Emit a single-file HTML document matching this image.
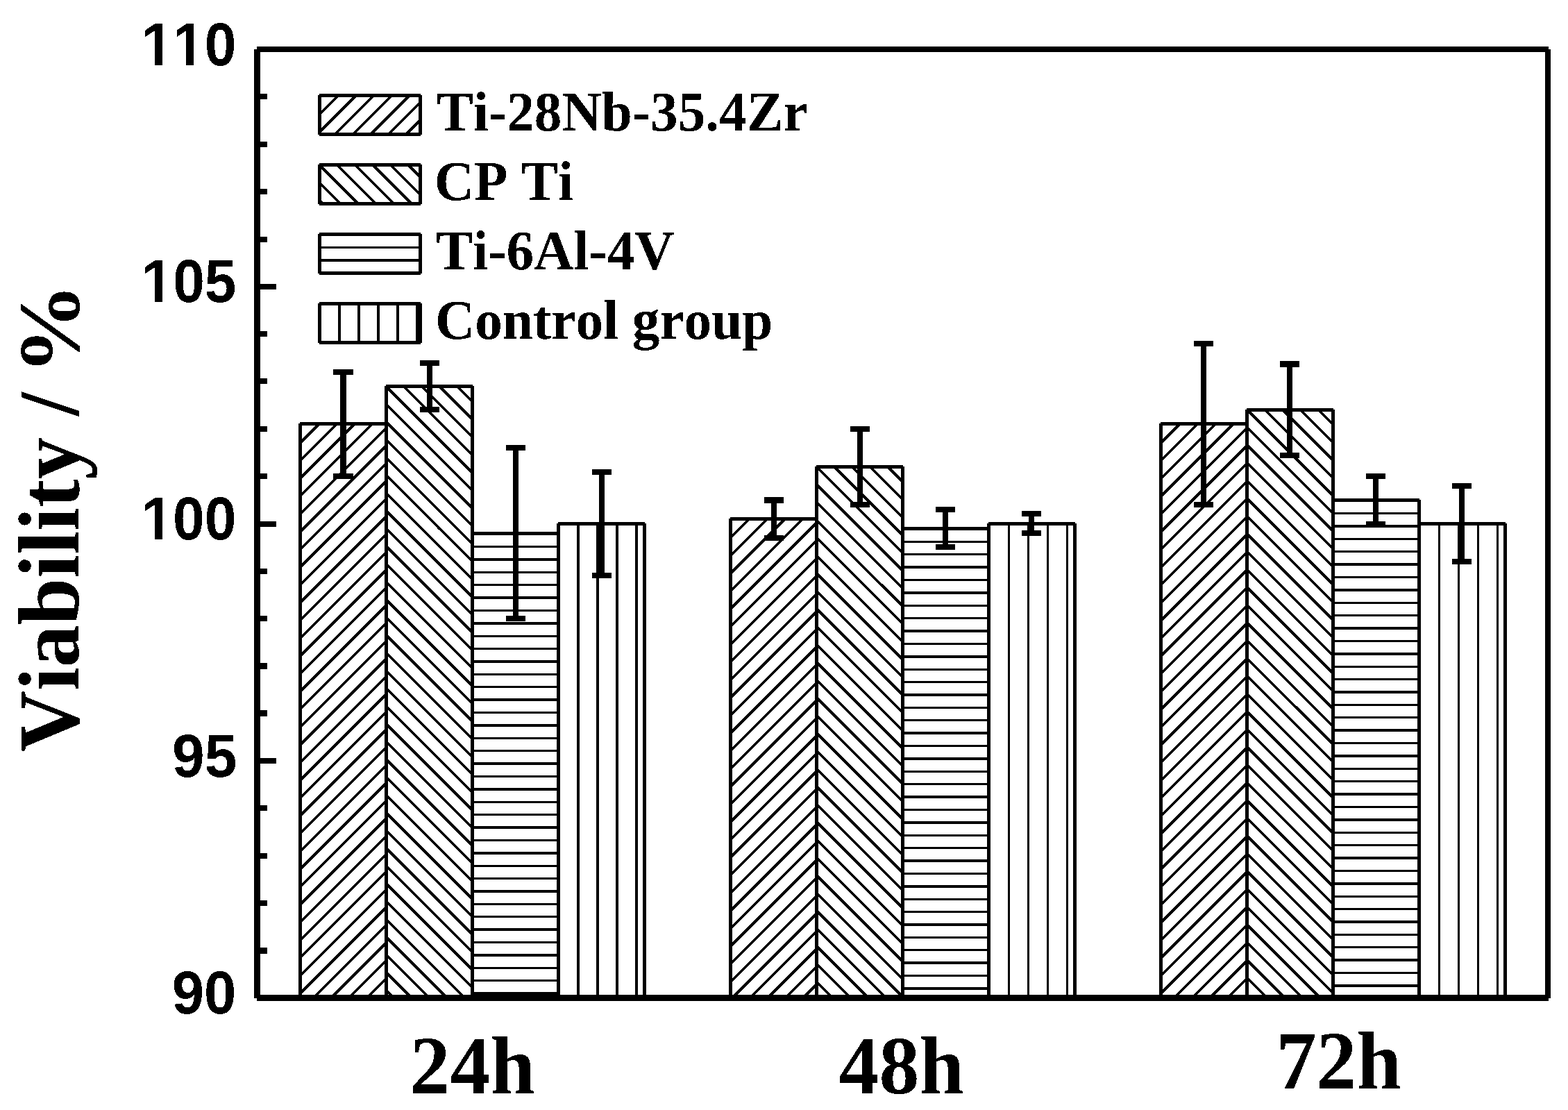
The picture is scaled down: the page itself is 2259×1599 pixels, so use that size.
<!DOCTYPE html>
<html lang="en"><head><meta charset="utf-8"><title>Cell viability of Ti-28Nb-35.4Zr, CP Ti, Ti-6Al-4V and control group</title>
<style>html,body{margin:0;padding:0;background:#fff}body{width:2259px;height:1599px;overflow:hidden}svg{display:block}.sans{font-family:"Liberation Sans",Arial,Helvetica,sans-serif;font-weight:700}.serif{font-family:"Liberation Serif","Times New Roman",Times,serif;font-weight:700}text{fill:#000;font-kerning:none;font-variant-ligatures:none;white-space:pre}</style></head><body>
<svg width="2259" height="1599" viewBox="0 0 2259 1599" shape-rendering="crispEdges" role="img" aria-label="Bar chart of cell viability (%) at 24h, 48h and 72h for Ti-28Nb-35.4Zr, CP Ti, Ti-6Al-4V and control group">
<rect x="0" y="0" width="2259" height="1599" fill="#fff"/>
<defs>
<filter id="bin" x="-5%" y="-5%" width="110%" height="110%" color-interpolation-filters="sRGB"><feComponentTransfer><feFuncA type="discrete" tableValues="0 1"/></feComponentTransfer></filter>
<clipPath id="c1"><rect x="432.5" y="610.5" width="124" height="823.5"/></clipPath>
<clipPath id="c2"><rect x="556.5" y="556.5" width="124" height="877.5"/></clipPath>
<clipPath id="c3"><rect x="680.5" y="768.5" width="124" height="665.5"/></clipPath>
<clipPath id="c4"><rect x="804.5" y="754.5" width="124" height="679.5"/></clipPath>
<clipPath id="c5"><rect x="1052.5" y="747.5" width="124" height="686.5"/></clipPath>
<clipPath id="c6"><rect x="1176.5" y="672.5" width="124" height="761.5"/></clipPath>
<clipPath id="c7"><rect x="1300.5" y="761.5" width="124" height="672.5"/></clipPath>
<clipPath id="c8"><rect x="1424.5" y="754.5" width="124" height="679.5"/></clipPath>
<clipPath id="c9"><rect x="1672.5" y="610.5" width="124" height="823.5"/></clipPath>
<clipPath id="c10"><rect x="1796.5" y="590.5" width="124" height="843.5"/></clipPath>
<clipPath id="c11"><rect x="1920.5" y="720.5" width="124" height="713.5"/></clipPath>
<clipPath id="c12"><rect x="2044.5" y="754.5" width="124" height="679.5"/></clipPath>
<clipPath id="c13"><rect x="460.5" y="137.5" width="145" height="56"/></clipPath>
<clipPath id="c14"><rect x="460.5" y="237.5" width="145" height="56"/></clipPath>
<clipPath id="c15"><rect x="460.5" y="337.5" width="145" height="56"/></clipPath>
<clipPath id="c16"><rect x="460.5" y="437.5" width="145" height="56"/></clipPath>
<clipPath id="ky110"><path d="M-40 -99.6H332.0V41.5H-40ZM-1.66 -9.30H19.46V2.49H-1.66ZM30.63 -9.30H46.58V2.49H30.63ZM44.50 -9.30H65.62V2.49H44.50ZM76.79 -9.30H92.74V2.49H76.79Z" clip-rule="evenodd"/></clipPath>
<clipPath id="ky105"><path d="M-40 -99.6H332.0V41.5H-40ZM-1.66 -9.30H19.46V2.49H-1.66ZM30.63 -9.30H46.58V2.49H30.63Z" clip-rule="evenodd"/></clipPath>
<clipPath id="ky100"><path d="M-40 -99.6H332.0V41.5H-40ZM-1.66 -9.30H19.46V2.49H-1.66ZM30.63 -9.30H46.58V2.49H30.63Z" clip-rule="evenodd"/></clipPath>
</defs>
<g id="bars">
<g clip-path="url(#c1)" stroke="#000" fill="none"><path d="M426.50 643.92L562.50 507.92M426.50 669.50L562.50 533.50M426.50 695.09L562.50 559.09M426.50 720.67L562.50 584.67M426.50 746.25L562.50 610.25M426.50 771.83L562.50 635.83M426.50 797.41L562.50 661.41M426.50 823.00L562.50 687.00M426.50 848.58L562.50 712.58M426.50 874.16L562.50 738.16M426.50 899.74L562.50 763.74M426.50 925.32L562.50 789.32M426.50 950.91L562.50 814.91M426.50 976.49L562.50 840.49M426.50 1002.07L562.50 866.07M426.50 1027.65L562.50 891.65M426.50 1053.23L562.50 917.23M426.50 1078.82L562.50 942.82M426.50 1104.40L562.50 968.40M426.50 1129.98L562.50 993.98M426.50 1155.56L562.50 1019.56M426.50 1181.14L562.50 1045.14M426.50 1206.73L562.50 1070.73M426.50 1232.31L562.50 1096.31M426.50 1257.89L562.50 1121.89M426.50 1283.47L562.50 1147.47M426.50 1309.05L562.50 1173.05M426.50 1334.64L562.50 1198.64M426.50 1360.22L562.50 1224.22M426.50 1385.80L562.50 1249.80M426.50 1411.38L562.50 1275.38M426.50 1436.96L562.50 1300.96M426.50 1462.55L562.50 1326.55M426.50 1488.13L562.50 1352.13M426.50 1513.71L562.50 1377.71M426.50 1539.29L562.50 1403.29M426.50 1564.87L562.50 1428.87" stroke-width="3.8"/></g>
<g fill="#000"><rect x="430" y="610" width="5" height="824"/><rect x="554" y="610" width="5" height="824"/><rect x="432" y="608" width="125" height="5"/></g>
<g clip-path="url(#c2)" stroke="#000" fill="none"><path d="M550.50 422.97L686.50 558.97M550.50 448.55L686.50 584.55M550.50 474.13L686.50 610.13M550.50 499.72L686.50 635.72M550.50 525.30L686.50 661.30M550.50 550.88L686.50 686.88M550.50 576.46L686.50 712.46M550.50 602.04L686.50 738.04M550.50 627.63L686.50 763.63M550.50 653.21L686.50 789.21M550.50 678.79L686.50 814.79M550.50 704.37L686.50 840.37M550.50 729.95L686.50 865.95M550.50 755.54L686.50 891.54M550.50 781.12L686.50 917.12M550.50 806.70L686.50 942.70M550.50 832.28L686.50 968.28M550.50 857.86L686.50 993.86M550.50 883.45L686.50 1019.45M550.50 909.03L686.50 1045.03M550.50 934.61L686.50 1070.61M550.50 960.19L686.50 1096.19M550.50 985.77L686.50 1121.77M550.50 1011.36L686.50 1147.36M550.50 1036.94L686.50 1172.94M550.50 1062.52L686.50 1198.52M550.50 1088.10L686.50 1224.10M550.50 1113.68L686.50 1249.68M550.50 1139.27L686.50 1275.27M550.50 1164.85L686.50 1300.85M550.50 1190.43L686.50 1326.43M550.50 1216.01L686.50 1352.01M550.50 1241.59L686.50 1377.59M550.50 1267.18L686.50 1403.18M550.50 1292.76L686.50 1428.76M550.50 1318.34L686.50 1454.34M550.50 1343.92L686.50 1479.92M550.50 1369.50L686.50 1505.50M550.50 1395.09L686.50 1531.09M550.50 1420.67L686.50 1556.67" stroke-width="3.8"/></g>
<g fill="#000"><rect x="554" y="556" width="5" height="878"/><rect x="678" y="556" width="5" height="878"/><rect x="556" y="554" width="125" height="5"/></g>
<g clip-path="url(#c3)" stroke="#000" fill="none"><g fill="#000" stroke="none"><rect x="680" y="786" width="125" height="3"/><rect x="680" y="804" width="125" height="4"/><rect x="680" y="823" width="125" height="3"/><rect x="680" y="841" width="125" height="3"/><rect x="680" y="859" width="125" height="4"/><rect x="680" y="878" width="125" height="3"/><rect x="680" y="896" width="125" height="4"/><rect x="680" y="915" width="125" height="3"/><rect x="680" y="933" width="125" height="3"/><rect x="680" y="951" width="125" height="4"/><rect x="680" y="970" width="125" height="3"/><rect x="680" y="988" width="125" height="3"/><rect x="680" y="1006" width="125" height="4"/><rect x="680" y="1025" width="125" height="3"/><rect x="680" y="1043" width="125" height="4"/><rect x="680" y="1062" width="125" height="3"/><rect x="680" y="1080" width="125" height="3"/><rect x="680" y="1098" width="125" height="4"/><rect x="680" y="1117" width="125" height="3"/><rect x="680" y="1135" width="125" height="4"/><rect x="680" y="1154" width="125" height="3"/><rect x="680" y="1172" width="125" height="3"/><rect x="680" y="1190" width="125" height="4"/><rect x="680" y="1209" width="125" height="3"/><rect x="680" y="1227" width="125" height="4"/><rect x="680" y="1246" width="125" height="3"/><rect x="680" y="1264" width="125" height="3"/><rect x="680" y="1282" width="125" height="4"/><rect x="680" y="1301" width="125" height="3"/><rect x="680" y="1319" width="125" height="3"/><rect x="680" y="1337" width="125" height="4"/><rect x="680" y="1356" width="125" height="3"/><rect x="680" y="1374" width="125" height="4"/><rect x="680" y="1393" width="125" height="3"/><rect x="680" y="1411" width="125" height="3"/><rect x="680" y="1429" width="125" height="4"/></g></g>
<g fill="#000"><rect x="678" y="768" width="5" height="666"/><rect x="802" y="768" width="5" height="666"/><rect x="680" y="766" width="125" height="5"/></g>
<g clip-path="url(#c4)" stroke="#000" fill="none"><g fill="#000" stroke="none"><rect x="831" y="754" width="4" height="680"/><rect x="859" y="754" width="4" height="680"/><rect x="887" y="754" width="4" height="680"/><rect x="915" y="754" width="4" height="680"/></g></g>
<g fill="#000"><rect x="802" y="754" width="5" height="680"/><rect x="926" y="754" width="5" height="680"/><rect x="804" y="752" width="125" height="5"/></g>
<g clip-path="url(#c5)" stroke="#000" fill="none"><path d="M1046.50 780.70L1182.50 644.70M1046.50 806.28L1182.50 670.28M1046.50 831.87L1182.50 695.87M1046.50 857.45L1182.50 721.45M1046.50 883.03L1182.50 747.03M1046.50 908.61L1182.50 772.61M1046.50 934.19L1182.50 798.19M1046.50 959.78L1182.50 823.78M1046.50 985.36L1182.50 849.36M1046.50 1010.94L1182.50 874.94M1046.50 1036.52L1182.50 900.52M1046.50 1062.10L1182.50 926.10M1046.50 1087.69L1182.50 951.69M1046.50 1113.27L1182.50 977.27M1046.50 1138.85L1182.50 1002.85M1046.50 1164.43L1182.50 1028.43M1046.50 1190.01L1182.50 1054.01M1046.50 1215.60L1182.50 1079.60M1046.50 1241.18L1182.50 1105.18M1046.50 1266.76L1182.50 1130.76M1046.50 1292.34L1182.50 1156.34M1046.50 1317.92L1182.50 1181.92M1046.50 1343.51L1182.50 1207.51M1046.50 1369.09L1182.50 1233.09M1046.50 1394.67L1182.50 1258.67M1046.50 1420.25L1182.50 1284.25M1046.50 1445.83L1182.50 1309.83M1046.50 1471.42L1182.50 1335.42M1046.50 1497.00L1182.50 1361.00M1046.50 1522.58L1182.50 1386.58M1046.50 1548.16L1182.50 1412.16" stroke-width="3.8"/></g>
<g fill="#000"><rect x="1050" y="747" width="5" height="687"/><rect x="1174" y="747" width="5" height="687"/><rect x="1052" y="745" width="125" height="5"/></g>
<g clip-path="url(#c6)" stroke="#000" fill="none"><path d="M1170.50 538.54L1306.50 674.54M1170.50 564.12L1306.50 700.12M1170.50 589.70L1306.50 725.70M1170.50 615.29L1306.50 751.29M1170.50 640.87L1306.50 776.87M1170.50 666.45L1306.50 802.45M1170.50 692.03L1306.50 828.03M1170.50 717.61L1306.50 853.61M1170.50 743.20L1306.50 879.20M1170.50 768.78L1306.50 904.78M1170.50 794.36L1306.50 930.36M1170.50 819.94L1306.50 955.94M1170.50 845.52L1306.50 981.52M1170.50 871.11L1306.50 1007.11M1170.50 896.69L1306.50 1032.69M1170.50 922.27L1306.50 1058.27M1170.50 947.85L1306.50 1083.85M1170.50 973.43L1306.50 1109.43M1170.50 999.02L1306.50 1135.02M1170.50 1024.60L1306.50 1160.60M1170.50 1050.18L1306.50 1186.18M1170.50 1075.76L1306.50 1211.76M1170.50 1101.34L1306.50 1237.34M1170.50 1126.93L1306.50 1262.93M1170.50 1152.51L1306.50 1288.51M1170.50 1178.09L1306.50 1314.09M1170.50 1203.67L1306.50 1339.67M1170.50 1229.25L1306.50 1365.25M1170.50 1254.84L1306.50 1390.84M1170.50 1280.42L1306.50 1416.42M1170.50 1306.00L1306.50 1442.00M1170.50 1331.58L1306.50 1467.58M1170.50 1357.16L1306.50 1493.16M1170.50 1382.75L1306.50 1518.75M1170.50 1408.33L1306.50 1544.33M1170.50 1433.91L1306.50 1569.91" stroke-width="3.8"/></g>
<g fill="#000"><rect x="1174" y="672" width="5" height="762"/><rect x="1298" y="672" width="5" height="762"/><rect x="1176" y="670" width="125" height="5"/></g>
<g clip-path="url(#c7)" stroke="#000" fill="none"><g fill="#000" stroke="none"><rect x="1300" y="779" width="125" height="3"/><rect x="1300" y="797" width="125" height="3"/><rect x="1300" y="815" width="125" height="4"/><rect x="1300" y="834" width="125" height="3"/><rect x="1300" y="852" width="125" height="4"/><rect x="1300" y="871" width="125" height="3"/><rect x="1300" y="889" width="125" height="3"/><rect x="1300" y="907" width="125" height="4"/><rect x="1300" y="926" width="125" height="3"/><rect x="1300" y="944" width="125" height="4"/><rect x="1300" y="963" width="125" height="3"/><rect x="1300" y="981" width="125" height="3"/><rect x="1300" y="999" width="125" height="4"/><rect x="1300" y="1018" width="125" height="3"/><rect x="1300" y="1036" width="125" height="3"/><rect x="1300" y="1054" width="125" height="4"/><rect x="1300" y="1073" width="125" height="3"/><rect x="1300" y="1091" width="125" height="4"/><rect x="1300" y="1110" width="125" height="3"/><rect x="1300" y="1128" width="125" height="3"/><rect x="1300" y="1146" width="125" height="4"/><rect x="1300" y="1165" width="125" height="3"/><rect x="1300" y="1183" width="125" height="4"/><rect x="1300" y="1202" width="125" height="3"/><rect x="1300" y="1220" width="125" height="3"/><rect x="1300" y="1238" width="125" height="4"/><rect x="1300" y="1257" width="125" height="3"/><rect x="1300" y="1275" width="125" height="4"/><rect x="1300" y="1294" width="125" height="3"/><rect x="1300" y="1312" width="125" height="3"/><rect x="1300" y="1330" width="125" height="4"/><rect x="1300" y="1349" width="125" height="3"/><rect x="1300" y="1367" width="125" height="3"/><rect x="1300" y="1385" width="125" height="4"/><rect x="1300" y="1404" width="125" height="3"/><rect x="1300" y="1422" width="125" height="4"/></g></g>
<g fill="#000"><rect x="1298" y="761" width="5" height="673"/><rect x="1422" y="761" width="5" height="673"/><rect x="1300" y="759" width="125" height="5"/></g>
<g clip-path="url(#c8)" stroke="#000" fill="none"><g fill="#000" stroke="none"><rect x="1452" y="754" width="3" height="680"/><rect x="1480" y="754" width="3" height="680"/><rect x="1508" y="754" width="3" height="680"/><rect x="1536" y="754" width="3" height="680"/></g></g>
<g fill="#000"><rect x="1422" y="754" width="5" height="680"/><rect x="1546" y="754" width="5" height="680"/><rect x="1424" y="752" width="125" height="5"/></g>
<g clip-path="url(#c9)" stroke="#000" fill="none"><path d="M1666.50 644.13L1802.50 508.13M1666.50 669.71L1802.50 533.71M1666.50 695.30L1802.50 559.30M1666.50 720.88L1802.50 584.88M1666.50 746.46L1802.50 610.46M1666.50 772.04L1802.50 636.04M1666.50 797.62L1802.50 661.62M1666.50 823.21L1802.50 687.21M1666.50 848.79L1802.50 712.79M1666.50 874.37L1802.50 738.37M1666.50 899.95L1802.50 763.95M1666.50 925.53L1802.50 789.53M1666.50 951.12L1802.50 815.12M1666.50 976.70L1802.50 840.70M1666.50 1002.28L1802.50 866.28M1666.50 1027.86L1802.50 891.86M1666.50 1053.44L1802.50 917.44M1666.50 1079.03L1802.50 943.03M1666.50 1104.61L1802.50 968.61M1666.50 1130.19L1802.50 994.19M1666.50 1155.77L1802.50 1019.77M1666.50 1181.35L1802.50 1045.35M1666.50 1206.94L1802.50 1070.94M1666.50 1232.52L1802.50 1096.52M1666.50 1258.10L1802.50 1122.10M1666.50 1283.68L1802.50 1147.68M1666.50 1309.26L1802.50 1173.26M1666.50 1334.85L1802.50 1198.85M1666.50 1360.43L1802.50 1224.43M1666.50 1386.01L1802.50 1250.01M1666.50 1411.59L1802.50 1275.59M1666.50 1437.17L1802.50 1301.17M1666.50 1462.76L1802.50 1326.76M1666.50 1488.34L1802.50 1352.34M1666.50 1513.92L1802.50 1377.92M1666.50 1539.50L1802.50 1403.50M1666.50 1565.08L1802.50 1429.08" stroke-width="3.8"/></g>
<g fill="#000"><rect x="1670" y="610" width="5" height="824"/><rect x="1794" y="610" width="5" height="824"/><rect x="1672" y="608" width="125" height="5"/></g>
<g clip-path="url(#c10)" stroke="#000" fill="none"><path d="M1790.50 456.12L1926.50 592.12M1790.50 481.70L1926.50 617.70M1790.50 507.28L1926.50 643.28M1790.50 532.87L1926.50 668.87M1790.50 558.45L1926.50 694.45M1790.50 584.03L1926.50 720.03M1790.50 609.61L1926.50 745.61M1790.50 635.19L1926.50 771.19M1790.50 660.78L1926.50 796.78M1790.50 686.36L1926.50 822.36M1790.50 711.94L1926.50 847.94M1790.50 737.52L1926.50 873.52M1790.50 763.10L1926.50 899.10M1790.50 788.69L1926.50 924.69M1790.50 814.27L1926.50 950.27M1790.50 839.85L1926.50 975.85M1790.50 865.43L1926.50 1001.43M1790.50 891.01L1926.50 1027.01M1790.50 916.60L1926.50 1052.60M1790.50 942.18L1926.50 1078.18M1790.50 967.76L1926.50 1103.76M1790.50 993.34L1926.50 1129.34M1790.50 1018.92L1926.50 1154.92M1790.50 1044.51L1926.50 1180.51M1790.50 1070.09L1926.50 1206.09M1790.50 1095.67L1926.50 1231.67M1790.50 1121.25L1926.50 1257.25M1790.50 1146.83L1926.50 1282.83M1790.50 1172.42L1926.50 1308.42M1790.50 1198.00L1926.50 1334.00M1790.50 1223.58L1926.50 1359.58M1790.50 1249.16L1926.50 1385.16M1790.50 1274.74L1926.50 1410.74M1790.50 1300.33L1926.50 1436.33M1790.50 1325.91L1926.50 1461.91M1790.50 1351.49L1926.50 1487.49M1790.50 1377.07L1926.50 1513.07M1790.50 1402.65L1926.50 1538.65M1790.50 1428.24L1926.50 1564.24" stroke-width="3.8"/></g>
<g fill="#000"><rect x="1794" y="590" width="5" height="844"/><rect x="1918" y="590" width="5" height="844"/><rect x="1796" y="588" width="125" height="5"/></g>
<g clip-path="url(#c11)" stroke="#000" fill="none"><g fill="#000" stroke="none"><rect x="1920" y="738" width="125" height="3"/><rect x="1920" y="756" width="125" height="4"/><rect x="1920" y="775" width="125" height="3"/><rect x="1920" y="793" width="125" height="3"/><rect x="1920" y="811" width="125" height="4"/><rect x="1920" y="830" width="125" height="3"/><rect x="1920" y="848" width="125" height="4"/><rect x="1920" y="867" width="125" height="3"/><rect x="1920" y="885" width="125" height="3"/><rect x="1920" y="903" width="125" height="4"/><rect x="1920" y="922" width="125" height="3"/><rect x="1920" y="940" width="125" height="4"/><rect x="1920" y="959" width="125" height="3"/><rect x="1920" y="977" width="125" height="3"/><rect x="1920" y="995" width="125" height="4"/><rect x="1920" y="1014" width="125" height="3"/><rect x="1920" y="1032" width="125" height="3"/><rect x="1920" y="1050" width="125" height="4"/><rect x="1920" y="1069" width="125" height="3"/><rect x="1920" y="1087" width="125" height="4"/><rect x="1920" y="1106" width="125" height="3"/><rect x="1920" y="1124" width="125" height="3"/><rect x="1920" y="1142" width="125" height="4"/><rect x="1920" y="1161" width="125" height="3"/><rect x="1920" y="1179" width="125" height="4"/><rect x="1920" y="1198" width="125" height="3"/><rect x="1920" y="1216" width="125" height="3"/><rect x="1920" y="1234" width="125" height="4"/><rect x="1920" y="1253" width="125" height="3"/><rect x="1920" y="1271" width="125" height="4"/><rect x="1920" y="1290" width="125" height="3"/><rect x="1920" y="1308" width="125" height="3"/><rect x="1920" y="1326" width="125" height="4"/><rect x="1920" y="1345" width="125" height="3"/><rect x="1920" y="1363" width="125" height="3"/><rect x="1920" y="1381" width="125" height="4"/><rect x="1920" y="1400" width="125" height="3"/><rect x="1920" y="1418" width="125" height="4"/></g></g>
<g fill="#000"><rect x="1918" y="720" width="5" height="714"/><rect x="2042" y="720" width="5" height="714"/><rect x="1920" y="718" width="125" height="5"/></g>
<g clip-path="url(#c12)" stroke="#000" fill="none"><g fill="#000" stroke="none"><rect x="2072" y="754" width="3" height="680"/><rect x="2100" y="754" width="3" height="680"/><rect x="2128" y="754" width="3" height="680"/><rect x="2156" y="754" width="3" height="680"/></g></g>
<g fill="#000"><rect x="2042" y="754" width="5" height="680"/><rect x="2166" y="754" width="5" height="680"/><rect x="2044" y="752" width="125" height="5"/></g>
</g>
<g id="errorbars" fill="#000">
<rect x="490" y="532" width="9" height="158"/>
<rect x="480" y="532" width="29" height="8"/>
<rect x="480" y="682" width="29" height="8"/>
<rect x="615" y="519" width="8" height="75"/>
<rect x="605" y="519" width="28" height="8"/>
<rect x="605" y="586" width="28" height="8"/>
<rect x="739" y="641" width="8" height="254"/>
<rect x="729" y="641" width="28" height="8"/>
<rect x="729" y="887" width="28" height="8"/>
<rect x="863" y="676" width="8" height="157"/>
<rect x="853" y="676" width="28" height="8"/>
<rect x="853" y="825" width="28" height="8"/>
<rect x="1111" y="716" width="8" height="63"/>
<rect x="1101" y="716" width="28" height="9"/>
<rect x="1101" y="771" width="28" height="8"/>
<rect x="1235" y="614" width="8" height="117"/>
<rect x="1225" y="614" width="28" height="8"/>
<rect x="1225" y="723" width="28" height="8"/>
<rect x="1358" y="730" width="8" height="62"/>
<rect x="1348" y="730" width="28" height="8"/>
<rect x="1348" y="784" width="28" height="8"/>
<rect x="1482" y="736" width="8" height="36"/>
<rect x="1472" y="736" width="28" height="8"/>
<rect x="1472" y="764" width="28" height="8"/>
<rect x="1730" y="491" width="8" height="240"/>
<rect x="1720" y="491" width="28" height="8"/>
<rect x="1720" y="723" width="28" height="8"/>
<rect x="1854" y="520" width="8" height="140"/>
<rect x="1844" y="520" width="28" height="9"/>
<rect x="1844" y="652" width="28" height="8"/>
<rect x="1978" y="682" width="8" height="77"/>
<rect x="1968" y="682" width="28" height="8"/>
<rect x="1968" y="751" width="28" height="8"/>
<rect x="2102" y="696" width="8" height="117"/>
<rect x="2092" y="696" width="28" height="8"/>
<rect x="2092" y="805" width="28" height="8"/>
</g>
<g id="axes" fill="#000">
<rect x="366" y="71" width="9" height="1367"/>
<rect x="2226" y="71" width="8" height="1367"/>
<rect x="370" y="67" width="1861" height="8"/>
<rect x="370" y="1433" width="1861" height="9"/>
<rect x="374" y="135" width="11" height="8"/>
<rect x="374" y="204" width="11" height="8"/>
<rect x="374" y="272" width="11" height="8"/>
<rect x="374" y="341" width="11" height="8"/>
<rect x="374" y="409" width="24" height="8"/>
<rect x="374" y="477" width="11" height="8"/>
<rect x="374" y="545" width="11" height="8"/>
<rect x="374" y="614" width="11" height="8"/>
<rect x="374" y="682" width="11" height="8"/>
<rect x="374" y="751" width="24" height="8"/>
<rect x="374" y="819" width="11" height="8"/>
<rect x="374" y="887" width="11" height="8"/>
<rect x="374" y="955" width="11" height="9"/>
<rect x="374" y="1023" width="11" height="9"/>
<rect x="374" y="1092" width="24" height="8"/>
<rect x="374" y="1160" width="11" height="8"/>
<rect x="374" y="1229" width="11" height="8"/>
<rect x="374" y="1297" width="11" height="8"/>
<rect x="374" y="1365" width="11" height="9"/>
</g>
<g id="legend">
<g clip-path="url(#c13)" stroke="#000" fill="none"><path d="M454.50 170.55L611.50 13.55M454.50 196.13L611.50 39.13M454.50 221.72L611.50 64.72M454.50 247.30L611.50 90.30M454.50 272.88L611.50 115.88M454.50 298.46L611.50 141.46M454.50 324.04L611.50 167.04M454.50 349.63L611.50 192.63" stroke-width="3.8"/></g>
<g fill="#000"><rect x="458" y="137" width="5" height="57"/><rect x="603" y="137" width="5" height="57"/><rect x="460" y="135" width="146" height="5"/><rect x="460" y="191" width="146" height="5"/></g>
<g clip-path="url(#c14)" stroke="#000" fill="none"><path d="M454.50 78.39L611.50 235.39M454.50 103.97L611.50 260.97M454.50 129.55L611.50 286.55M454.50 155.13L611.50 312.13M454.50 180.72L611.50 337.72M454.50 206.30L611.50 363.30M454.50 231.88L611.50 388.88M454.50 257.46L611.50 414.46M454.50 283.04L611.50 440.04" stroke-width="3.8"/></g>
<g fill="#000"><rect x="458" y="237" width="5" height="57"/><rect x="603" y="237" width="5" height="57"/><rect x="460" y="235" width="146" height="5"/><rect x="460" y="291" width="146" height="5"/></g>
<g clip-path="url(#c15)" stroke="#000" fill="none"><g fill="#000" stroke="none"><rect x="460" y="355" width="146" height="3"/><rect x="460" y="373" width="146" height="4"/><rect x="460" y="392" width="146" height="1.5"/></g></g>
<g fill="#000"><rect x="458" y="337" width="5" height="57"/><rect x="603" y="337" width="5" height="57"/><rect x="460" y="335" width="146" height="5"/><rect x="460" y="391" width="146" height="5"/></g>
<g clip-path="url(#c16)" stroke="#000" fill="none"><g fill="#000" stroke="none"><rect x="487" y="437" width="4" height="57"/><rect x="515" y="437" width="4" height="57"/><rect x="543" y="437" width="4" height="57"/><rect x="571" y="437" width="4" height="57"/><rect x="599" y="437" width="4" height="57"/></g></g>
<g fill="#000"><rect x="458" y="437" width="5" height="57"/><rect x="603" y="437" width="5" height="57"/><rect x="460" y="435" width="146" height="5"/><rect x="460" y="491" width="146" height="5"/></g>
</g>
<g id="labels" filter="url(#bin)">
<text class="serif" transform="matrix(0.99900 0 0 1.00000 629.000 188.000)" font-size="79.30">Ti-28Nb-35.4Zr</text>
<text class="serif" transform="matrix(0.99900 0 0 1.00000 625.700 288.000)" font-size="79.30">CP Ti</text>
<text class="serif" transform="matrix(0.99900 0 0 1.00000 628.300 388.000)" font-size="79.30">Ti-6Al-4V</text>
<text class="serif" transform="matrix(0.99900 0 0 1.00000 627.000 488.000)" font-size="79.30">Control group</text>
<text class="sans" transform="matrix(0.99000 0 0 1.04200 203.400 94.000)" font-size="83.00" clip-path="url(#ky110)">110</text>
<text class="sans" transform="matrix(0.99000 0 0 1.04200 203.450 435.000)" font-size="83.00" clip-path="url(#ky105)">105</text>
<text class="sans" transform="matrix(0.99000 0 0 1.04200 203.400 777.000)" font-size="83.00" clip-path="url(#ky100)">100</text>
<text class="sans" transform="matrix(1.01200 0 0 1.04200 247.950 1119.000)" font-size="83.00">95</text>
<text class="sans" transform="matrix(1.00300 0 0 1.04200 247.700 1460.000)" font-size="83.00">90</text>
<text class="serif" transform="matrix(1.00500 0 0 1.02000 590.500 1574.800)" font-size="115.40">24h</text>
<text class="serif" transform="matrix(1.00500 0 0 1.02000 1208.500 1574.800)" font-size="115.40">48h</text>
<text class="serif" transform="matrix(1.00500 0 0 1.02000 1838.600 1567.500)" font-size="115.40">72h</text>
<text class="serif" transform="matrix(0 -1.00280 1.02000 0 113.500 1083.100)" font-size="121.50"><tspan>Viability / </tspan><tspan x="541.90" textLength="131.20" lengthAdjust="spacingAndGlyphs">%</tspan></text>
</g>
</svg></body></html>
